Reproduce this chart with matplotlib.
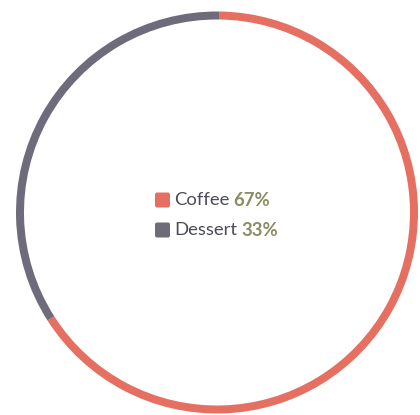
import matplotlib.pyplot as plt
from matplotlib.patches import FancyBboxPatch

labels = ["Coffee", "Dessert"]
percents = ["67%", "33%"]
# arc shares as measured on the ring
values = [65.8, 34.2]
colors = ["#e57062", "#6e6b7b"]

fig = plt.figure(figsize=[4.2, 4.15], dpi=100)
ax = fig.add_axes([0, 0, 1, 1])
ax.axis("off")

ax.pie(values, colors=colors, startangle=89.4, counterclock=False,
       center=(217, 202.5), radius=201, wedgeprops=dict(width=8, linewidth=0))
ax.set_xlim(0, 420)
ax.set_ylim(0, 415)
ax.set_aspect("auto")

fig.canvas.draw()
renderer = fig.canvas.get_renderer()
ys = [215, 185]
for lab, pct, col, y in zip(labels, percents, colors, ys):
    ax.add_patch(FancyBboxPatch((155, y - 7.5), 15, 15, boxstyle="round,pad=0,rounding_size=2",
                                color=col, linewidth=0))
    t = ax.text(174, y, lab, fontsize=13.3, family="Lato", color="#4b4b5a",
                va="center", ha="left")
    bb = t.get_window_extent(renderer)
    x2 = ax.transData.inverted().transform((bb.x1, 0))[0] + 4
    ax.text(x2, y, pct, fontsize=13.3, family="Lato",
            fontweight="bold", color="#8c8c62", va="center", ha="left")

fig.savefig("out.png")
